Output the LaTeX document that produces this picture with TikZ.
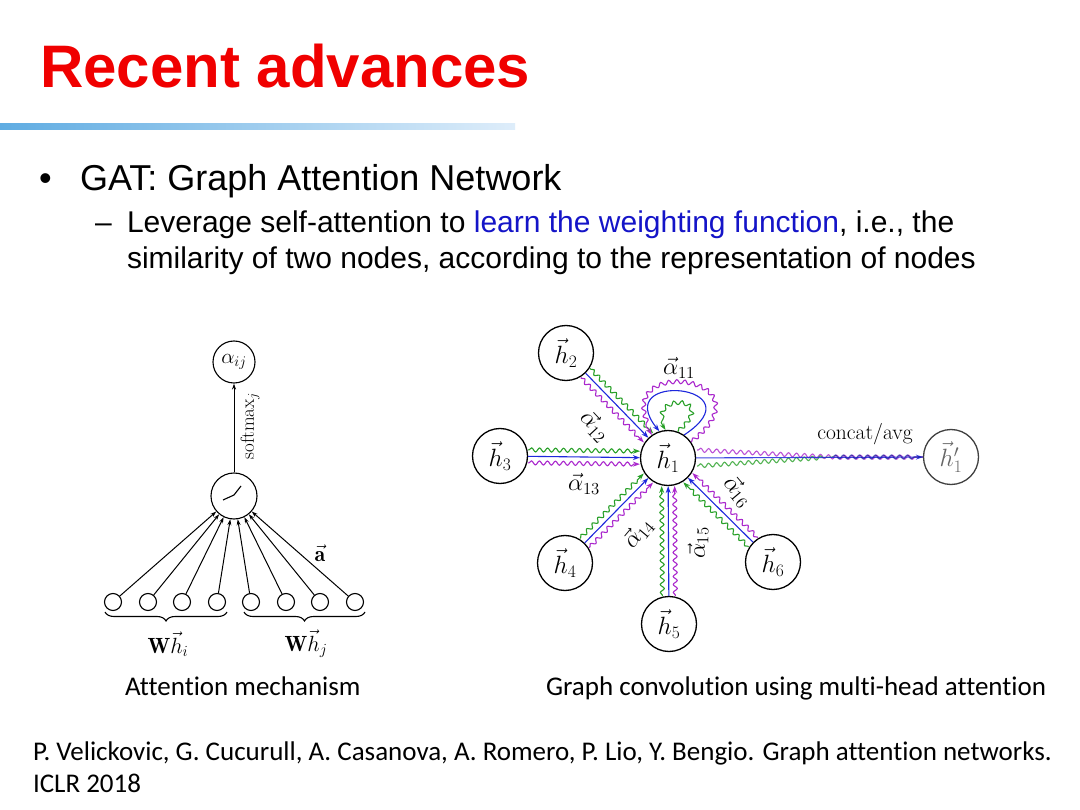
\RequirePackage{fix-cm}
\documentclass[tikz,border=0pt]{standalone}
\usepackage{fontspec}
\newfontfamily\arialfont{Liberation Sans}
\newfontfamily\calfont[Ligatures=NoCommon]{Carlito}
\usetikzlibrary{arrows.meta,decorations.pathmorphing,decorations.pathreplacing,calc}
\definecolor{titlered}{RGB}{240,0,0}
\definecolor{linkblue}{RGB}{20,20,200}
\definecolor{egreen}{RGB}{40,160,40}
\definecolor{epurple}{RGB}{170,40,205}
\definecolor{eblue}{RGB}{30,40,220}
\definecolor{barblue}{RGB}{95,172,226}
\definecolor{barlight}{RGB}{222,237,250}
\tikzset{
  txt/.style={inner sep=0pt, outer sep=0pt, anchor=base west},
  circ/.style={circle, draw, line width=1.1pt, inner sep=0pt},
  hnode/.style={circle, draw, line width=1.3pt, minimum size=55pt, inner sep=0pt, font=\fontsize{25}{25}\selectfont},
  lab/.style={inner sep=0pt, font=\fontsize{24}{24}\selectfont},
  ltip/.style={line width=1pt, -{Stealth[length=6pt,width=4pt]}},
  tip/.style={line width=1.1pt, -{Stealth[length=7pt,width=5pt]}},
  wavy/.style={decorate, decoration={snake, amplitude=2pt, segment length=8pt, pre length=1pt, post length=6pt}},
}
\newcommand\gatedge[1]{%
  \draw[eblue, tip] (#1) -- (h1);
  \draw[egreen, wavy, tip] ($(#1)!28pt!(h1)!6.5pt!90:(h1)$) -- ($(h1)!28pt!(#1)!6.5pt!-90:(#1)$);
  \draw[epurple, wavy, tip] ($(#1)!28pt!(h1)!6.5pt!-90:(h1)$) -- ($(h1)!28pt!(#1)!6.5pt!90:(#1)$);
}
\begin{document}
\begin{tikzpicture}[x=1pt,y=-1pt]
\useasboundingbox (0,0) rectangle (1080,810);
\fill[white] (0,0) rectangle (1080,810);

% title
\node[txt, font=\arialfont\bfseries\fontsize{60}{60}\selectfont, text=titlered] (title) at (40,88) {Recent advances};
\shade[left color=barblue, right color=barlight] (0,124) rectangle (515,130);

% bullets
\node[txt, font=\arialfont\fontsize{36}{36}\selectfont] (bul) at (39,191) {•};
\node[txt, font=\arialfont\fontsize{36}{36}\selectfont] (gat) at (80,191) {GAT: Graph Attention Network};
\node[txt, font=\arialfont\fontsize{30}{30}\selectfont] (dash) at (95,233) {–};
\node[txt, font=\arialfont\fontsize{30}{30}\selectfont] (l1) at (127,233) {Leverage self-attention to \textcolor{linkblue}{learn the weighting function}, i.e., the};
\node[txt, font=\arialfont\fontsize{30}{30}\selectfont] (l2) at (127,269) {similarity of two nodes, according to the representation of nodes};

% left diagram: attention mechanism
\node[circ, minimum size=42pt, font=\fontsize{21}{21}\selectfont] (aij) at (234,362) {$\alpha_{ij}$};
\node[circ, minimum size=46pt] (sig) at (234,496) {};
\draw[line width=1.1pt] ($(sig.center)+(-11,4)$) -- ++(11,-5) -- ++(7,-9);
\foreach \i/\x in {1/113,2/148,3/182,4/217,5/251,6/286,7/320,8/355}{
  \node[circ, minimum size=17pt] (b\i) at (\x,602) {};
  \draw[ltip] (b\i) -- (sig);
}
\draw[ltip] (sig) -- (aij);
\node[rotate=90, inner sep=0pt, font=\fontsize{19}{19}\selectfont] (smax) at (250,426) {$\mathrm{softmax}_j$};
\node[inner sep=0pt, font=\fontsize{22}{22}\selectfont] (avec) at (320,553) {$\vec{\mathbf{a}}$};
\draw[line width=1.1pt, decorate, decoration={brace, amplitude=9pt}] (227,612) -- (105,612);
\draw[line width=1.1pt, decorate, decoration={brace, amplitude=9pt}] (365,612) -- (244,612);
\node[inner sep=0pt, font=\fontsize{22}{22}\selectfont] (whi) at (168,644) {$\mathbf{W}\vec{h}_i$};
\node[inner sep=0pt, font=\fontsize{22}{22}\selectfont] (whj) at (306,644) {$\mathbf{W}\vec{h}_j$};

% right diagram: multi-head attention
\node[hnode] (h1) at (668,458) {$\vec{h}_1$};
\node[hnode] (h2) at (566,353) {$\vec{h}_2$};
\node[hnode] (h3) at (500,456) {$\vec{h}_3$};
\node[hnode] (h4) at (565,563) {$\vec{h}_4$};
\node[hnode] (h5) at (669,624) {$\vec{h}_5$};
\node[hnode] (h6) at (773,562) {$\vec{h}_6$};
\node[hnode, draw=black!75, text=black!60] (h1p) at (951,457) {$\vec{h}'_1$};

\gatedge{h2}
\gatedge{h3}
\gatedge{h4}
\gatedge{h5}
\gatedge{h6}

% self loops
\draw[epurple, wavy, tip] (h1.35) .. controls (775,375) and (600,355) .. (h1.125);
\draw[eblue, tip] (h1.55) .. controls (760,385) and (610,370) .. (h1.108);
\draw[egreen, tip, decorate, decoration={snake, amplitude=2pt, segment length=8pt, pre length=1pt, post length=5pt}] (h1.70) .. controls (720,395) and (640,395) .. (h1.95);

% output edge
\coordinate (mrg) at ($(h1p.west)+(-90,0)$);
\draw[epurple, opacity=0.8, line width=1.1pt, wavy] ($(h1.east)+(1,-8)$) -- (mrg) -- (h1p.west);
\draw[egreen, opacity=0.8, line width=1.1pt, wavy] ($(h1.east)+(1,8)$) -- (mrg);
\draw[eblue, tip, opacity=0.85] (h1) -- (h1p);
\draw[eblue!70!black, opacity=0.7, line width=1.1pt, decorate, decoration={snake, amplitude=2pt, segment length=8pt, post length=6pt}] (mrg) -- (h1p.west);

% labels
\node[lab] (l11) at (679,368) {$\vec{\alpha}_{11}$};
\node[lab, rotate=-47] (l12) at (595,426) {$\vec{\alpha}_{12}$};
\node[lab] (l13) at (584,484) {$\vec{\alpha}_{13}$};
\node[lab, rotate=50] (l14) at (638,533) {$\vec{\alpha}_{14}$};
\node[lab, rotate=90] (l15) at (698,543) {$\vec{\alpha}_{15}$};
\node[lab, rotate=-50] (l16) at (738,491) {$\vec{\alpha}_{16}$};
\node[lab, font=\fontsize{21.5}{21.5}\selectfont] (cat) at (865,434) {concat/avg};

% captions
\node[txt, font=\calfont\fontsize{27}{27}\selectfont] (cap1) at (125,695) {Attention mechanism};
\node[txt, font=\calfont\fontsize{27}{27}\selectfont] (cap2) at (546,695) {Graph convolution using multi-head attention};
\node[txt, font=\calfont\fontsize{27}{27}\selectfont] (ref1) at (33,760) {P. Velickovic, G. Cucurull, A. Casanova, A. Romero, P. Lio, Y. Bengio. Graph attention networks.};
\node[txt, font=\calfont\fontsize{27}{27}\selectfont] (ref2) at (33,792) {ICLR 2018};
\end{tikzpicture}
\end{document}
